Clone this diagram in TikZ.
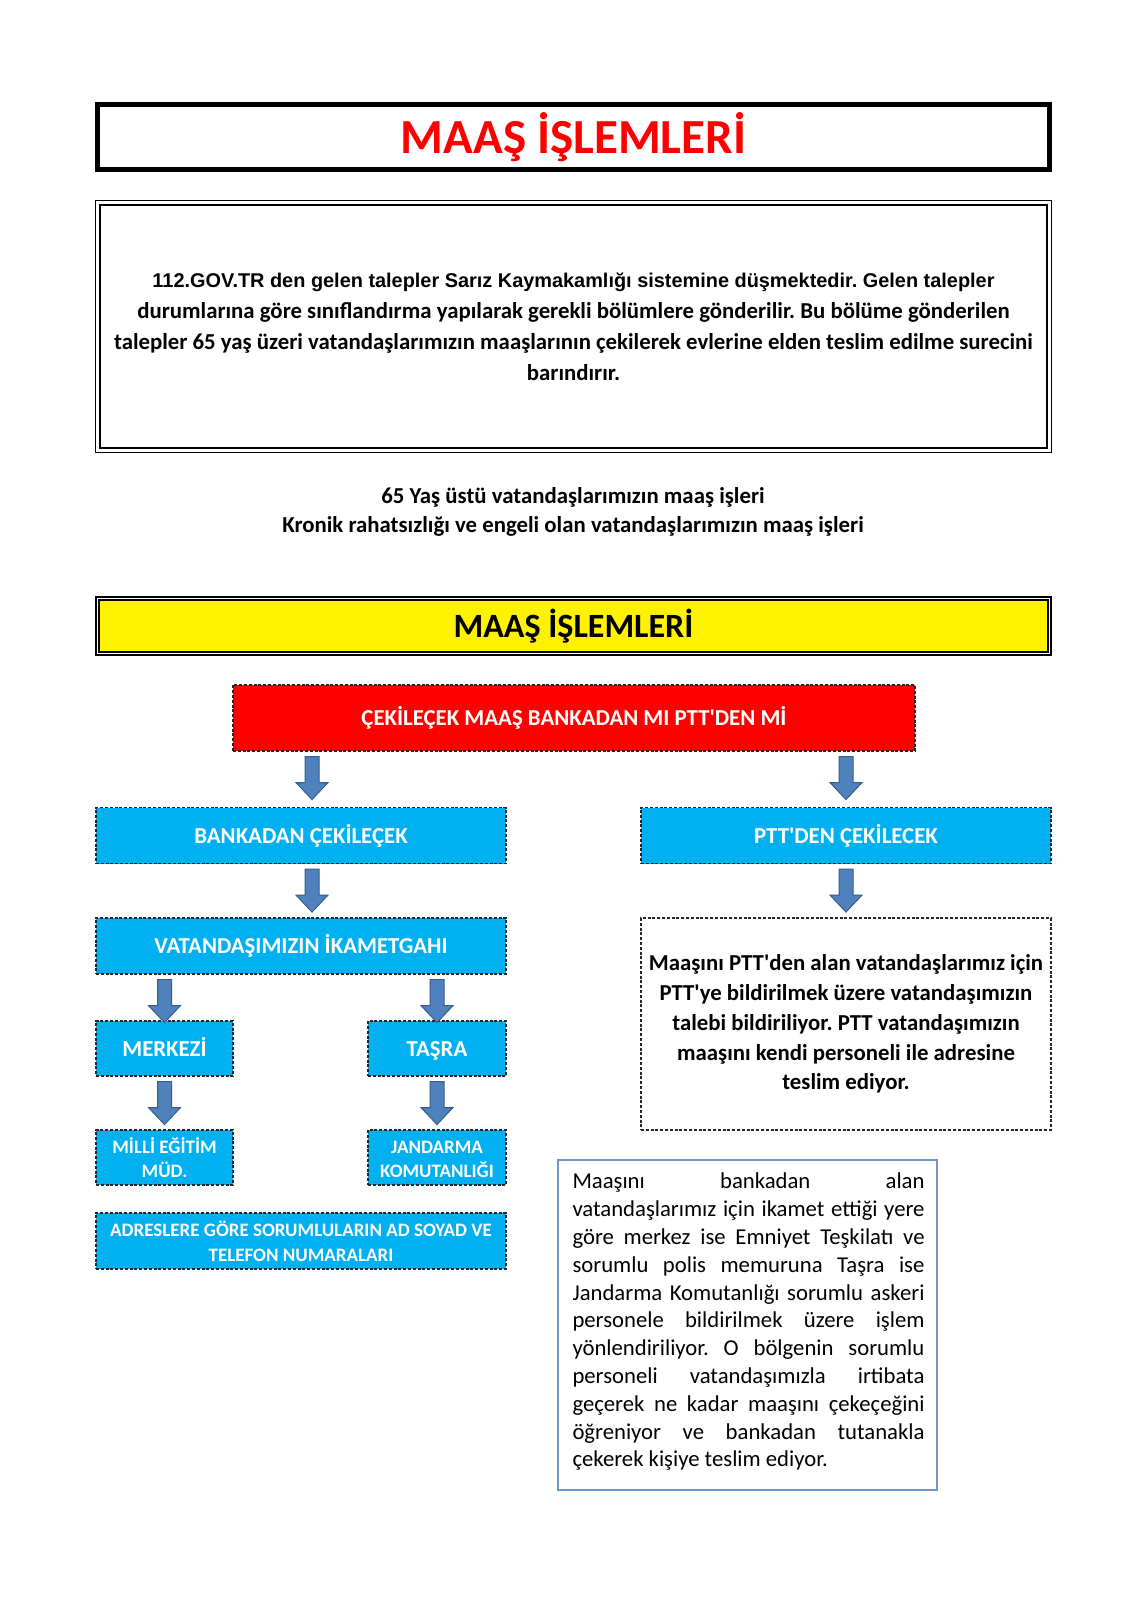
\documentclass[tikz,border=0pt]{standalone}
\usepackage{fontspec}
\setmainfont{Carlito}
\newfontfamily\arialfont{Liberation Sans}
\usetikzlibrary{calc}
\frenchspacing

\definecolor{boxblue}{HTML}{00B0F0}
\definecolor{arrowblue}{HTML}{4F81BD}
\definecolor{arrowedge}{HTML}{385D8A}
\definecolor{noteline}{HTML}{7096C8}

\newcommand{\fs}[2]{\fontsize{#1pt}{#2pt}\selectfont}
\newcommand{\ap}{\textquotesingle}
\newcommand{\tall}{\vphantom{İÇ}}

% block arrow pointing down, placed under node #2 and just below #3
\newcommand{\blockdown}[3][0pt]{%
  \draw[blockarrow] let \p1=(#2), \p2=(#3) in
    (\x2+#1-7pt,\y1-5pt) -- (\x2+#1+7pt,\y1-5pt) -- (\x2+#1+7pt,\y1-31pt)
    -- (\x2+#1+16pt,\y1-31pt) -- (\x2+#1,\y1-48pt) -- (\x2+#1-16pt,\y1-31pt)
    -- (\x2+#1-7pt,\y1-31pt) -- cycle;}

\tikzset{
  blockarrow/.style={fill=arrowblue, draw=arrowedge, line width=1pt, line join=miter},
  frame/.style={draw, inner sep=0pt, align=center},
  dashframe/.style={draw=black!85, line width=1.1pt, dash pattern=on 3pt off 1.8pt, inner sep=0pt, align=center},
  flowbox/.style={dashframe, fill=boxblue, text=white, font=\fs{22.8}{27}\bfseries, minimum height=56pt},
  smallbox/.style={flowbox, font=\fs{19}{24.5}\bfseries, minimum height=55pt}
}

\begin{document}
\begin{tikzpicture}[x=1pt, y=-1pt]
    \useasboundingbox[fill=white] (0,0) rectangle (1131,1600);

    % header
    \node[frame, line width=5pt, minimum width=952pt, minimum height=65pt,
          text=red, font=\fs{49}{55}\bfseries] (title) at (573.5,137) {\tall MAAŞ İŞLEMLERİ};
    \node[frame, line width=1.3pt, double, double distance=3pt,
          minimum width=951.4pt, minimum height=247.4pt] (intro) at (573.5,326.5) {};
    \node[align=center, font=\fs{22.8}{31}\bfseries] (introtext) at (intro.center)
        {{\arialfont\fs{19.9}{31}\bfseries 112.GOV.TR den gelen talepler Sarız Kaymakamlığı sistemine düşmektedir. Gelen talepler}\\
         durumlarına göre sınıflandırma yapılarak gerekli bölümlere gönderilir. Bu bölüme gönderilen\\
         talepler 65 yaş üzeri vatandaşlarımızın maaşlarının çekilerek evlerine elden teslim edilme surecini\\
         barındırır.};
    \node[align=center, font=\fs{22.8}{29}\bfseries] (scope) at (573,511.5)
        {65 Yaş üstü vatandaşlarımızın maaş işleri\\
         Kronik rahatsızlığı ve engeli olan vatandaşlarımızın maaş işleri};
    \node[frame, fill=yellow, line width=1.7pt, double, double distance=1.6pt,
          minimum width=952pt, minimum height=55pt, font=\fs{34}{40}\bfseries] (bar) at (573.5,626) {\tall MAAŞ İŞLEMLERİ};

    % flow
    \node[flowbox, fill=red, minimum width=682pt, minimum height=66pt] (ask) at (574,718)
        {\tall ÇEKİLEÇEK MAAŞ BANKADAN MI PTT\ap DEN Mİ};
    \node[flowbox, minimum width=410pt] (bank) at (301,835.5) {\tall BANKADAN ÇEKİLEÇEK};
    \node[flowbox, minimum width=410pt] (ptt) at (846,835.5) {\tall PTT\ap DEN ÇEKİLECEK};
    \node[flowbox, minimum width=410pt] (home) at (301,946) {\tall VATANDAŞIMIZIN İKAMETGAHI};
    \node[dashframe, fill=white, minimum width=410pt, minimum height=212pt,
          font=\fs{22.8}{29.8}\bfseries] (pttnote) at (846,1024)
        {Maaşını PTT\ap den alan vatandaşlarımız için\\
         PTT\ap ye bildirilmek üzere vatandaşımızın\\
         talebi bildiriliyor. PTT vatandaşımızın\\
         maaşını kendi personeli ile adresine\\
         teslim ediyor.};
    \node[flowbox, minimum width=137pt, minimum height=55pt] (center) at (164.5,1048.5) {\tall MERKEZİ};
    \node[flowbox, minimum width=138pt, minimum height=55pt] (rural) at (437,1048.5) {\tall TAŞRA};
    \node[smallbox, minimum width=137pt] (edu) at (164.5,1157.5) {\tall MİLLİ EĞİTİM\\MÜD.};
    \node[smallbox, minimum width=138pt] (gendarme) at (437,1157.5) {\tall JANDARMA\\KOMUTANLIĞI};
    \node[smallbox, minimum width=410pt, minimum height=56pt] (contacts) at (301,1241)
        {\tall ADRESLERE GÖRE SORUMLULARIN AD SOYAD VE\\TELEFON NUMARALARI};
    \node[draw=noteline, line width=1.5pt, minimum width=379pt, minimum height=330pt,
          inner sep=0pt] (banknote) at (747.5,1325) {};
    \node[text width=352pt, align=justify, inner sep=0pt, font=\fs{22.7}{27.8}] (banktext) at (748.5,1322)
        {Maaşını bankadan alan\linebreak
         vatandaşlarımız için ikamet ettiği yere\linebreak
         göre merkez ise Emniyet Teşkilatı ve\linebreak
         sorumlu polis memuruna Taşra ise\linebreak
         Jandarma Komutanlığı sorumlu askeri\linebreak
         personele bildirilmek üzere işlem\linebreak
         yönlendiriliyor. O bölgenin sorumlu\linebreak
         personeli vatandaşımızla irtibata\linebreak
         geçerek ne kadar maaşını çekeçeğini\linebreak
         öğreniyor ve bankadan tutanakla\linebreak
         çekerek kişiye teslim ediyor.};

    % arrows
    \blockdown[11pt]{ask.south -| bank.north}{bank.north}
    \blockdown{ask.south -| ptt.north}{ptt.north}
    \blockdown[11pt]{bank.south}{home.north}
    \blockdown{ptt.south}{pttnote.north}
    \blockdown{home.south -| center.north}{center.north}
    \blockdown{home.south -| rural.north}{rural.north}
    \blockdown{center.south}{edu.north}
    \blockdown{rural.south}{gendarme.north}
\end{tikzpicture}
\end{document}
